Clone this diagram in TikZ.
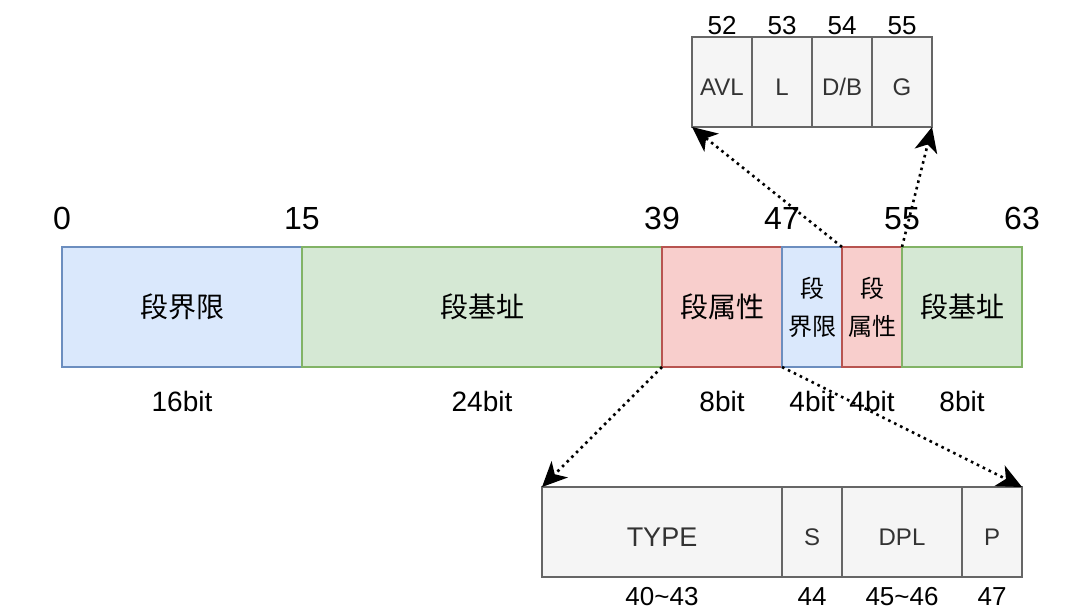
\documentclass[tikz,border=0pt]{standalone}
\usepackage{fontspec}
\setmainfont{Liberation Sans}
\newfontfamily\cjk{Noto Sans CJK SC}
\usepackage{tikz}
\usetikzlibrary{positioning, arrows.meta, calc}
\usepackage{xcolor}
\definecolor{limitFill}{HTML}{DAE8FC}
\definecolor{limitLine}{HTML}{6C8EBF}
\definecolor{baseFill}{HTML}{D5E8D4}
\definecolor{baseLine}{HTML}{82B366}
\definecolor{attrFill}{HTML}{F8CECC}
\definecolor{attrLine}{HTML}{B85450}
\definecolor{fieldFill}{HTML}{F5F5F5}
\definecolor{fieldLine}{HTML}{666666}
\definecolor{fieldText}{HTML}{333333}

\begin{document}
\begin{tikzpicture}[
        x=1pt, y=-1pt,
        % Estilos de los segmentos del descriptor
        seg/.style={
            rectangle,
            line width=2.6pt,
            outer sep=0pt,
            inner sep=0pt,
            minimum height=120pt,
            align=center,
            font=\cjk\fontsize{28}{34}\selectfont
        },
        limitseg/.style={seg, draw=limitLine, fill=limitFill},
        baseseg/.style={seg, draw=baseLine, fill=baseFill},
        attrseg/.style={seg, draw=attrLine, fill=attrFill},
        narrow/.style={minimum width=60pt, font=\cjk\fontsize{24}{38}\selectfont},
        % Estilos de los campos ampliados
        field/.style={
            rectangle,
            draw=fieldLine,
            fill=fieldFill,
            text=fieldText,
            line width=2.6pt,
            outer sep=0pt,
            minimum width=60pt,
            minimum height=90pt,
            text height=27pt,
            text depth=0pt,
            font=\fontsize{24}{29}\selectfont
        },
        % Etiquetas
        bitnum/.style={inner sep=0pt, font=\fontsize{32}{38}\selectfont},
        bitlen/.style={inner sep=0pt, font=\fontsize{28}{34}\selectfont},
        fieldnum/.style={inner sep=0pt, font=\fontsize{26}{31}\selectfont},
        % Flechas
        zoomarrow/.style={-{Stealth[length=25pt, width=23pt, inset=7pt]}, dash pattern=on 2.6pt off 4pt, line width=2.6pt}
    ]
    \useasboundingbox (0,0) rectangle (1083,612);

    % -- Descriptor de segmento --
    \node[limitseg, minimum width=240pt, anchor=north west] (lim1) at (62,247) {段界限};
    \node[baseseg, minimum width=360pt, right=0pt of lim1] (base1) {段基址};
    \node[attrseg, minimum width=120pt, right=0pt of base1] (attr1) {段属性};
    \node[limitseg, narrow, right=0pt of attr1] (lim2) {段\\界限};
    \node[attrseg, narrow, right=0pt of lim2] (attr2) {段\\属性};
    \node[baseseg, minimum width=120pt, right=0pt of attr2] (base2) {段基址};

    % -- Numeros de bit --
    \node[bitnum, above=17pt of lim1.north west] (b0) {0};
    \node[bitnum, above=17pt of base1.north west] (b15) {15};
    \node[bitnum, above=17pt of attr1.north west] (b39) {39};
    \node[bitnum, above=17pt of lim2.north west] (b47) {47};
    \node[bitnum, above=17pt of base2.north west] (b55) {55};
    \node[bitnum, above=17pt of base2.north east] (b63) {63};

    % -- Longitudes --
    \node[bitlen, below=24pt of lim1.south] (w1) {16bit};
    \node[bitlen, below=24pt of base1.south] (w2) {24bit};
    \node[bitlen, below=24pt of attr1.south] (w3) {8bit};
    \node[bitlen, below=24pt of lim2.south] (w4) {4bit};
    \node[bitlen, below=24pt of attr2.south] (w5) {4bit};
    \node[bitlen, below=24pt of base2.south] (w6) {8bit};

    % -- Campos superiores --
    \node[field, anchor=north west] (avl) at (692,37) {AVL};
    \node[field, right=0pt of avl] (lflag) {L};
    \node[field, right=0pt of lflag] (db) {D/B};
    \node[field, right=0pt of db] (gran) {G};
    \node[fieldnum, above=2pt of avl.north] (n52) {52};
    \node[fieldnum, above=2pt of lflag.north] (n53) {53};
    \node[fieldnum, above=2pt of db.north] (n54) {54};
    \node[fieldnum, above=2pt of gran.north] (n55) {55};

    % -- Campos inferiores --
    \node[field, minimum width=240pt, anchor=north west, text height=29pt, font=\fontsize{27}{32}\selectfont] (type) at (542,487) {TYPE};
    \node[field, right=0pt of type] (sflag) {S};
    \node[field, minimum width=120pt, right=0pt of sflag] (dpl) {DPL};
    \node[field, right=0pt of dpl] (pflag) {P};
    \node[fieldnum, below=10pt of type.south] (n40) {40\char`~43};
    \node[fieldnum, below=10pt of sflag.south] (n44) {44};
    \node[fieldnum, below=10pt of dpl.south] (n45) {45\char`~46};
    \node[fieldnum, below=10pt of pflag.south] (n47) {47};

    % -- Ampliaciones --
    \draw[zoomarrow] (attr2.north west) -- (avl.south west);
    \draw[zoomarrow] (attr2.north east) -- (gran.south east);
    \draw[zoomarrow] (attr1.south west) -- (type.north west);
    \draw[zoomarrow] (attr1.south east) -- (pflag.north east);

\end{tikzpicture}
\end{document}
